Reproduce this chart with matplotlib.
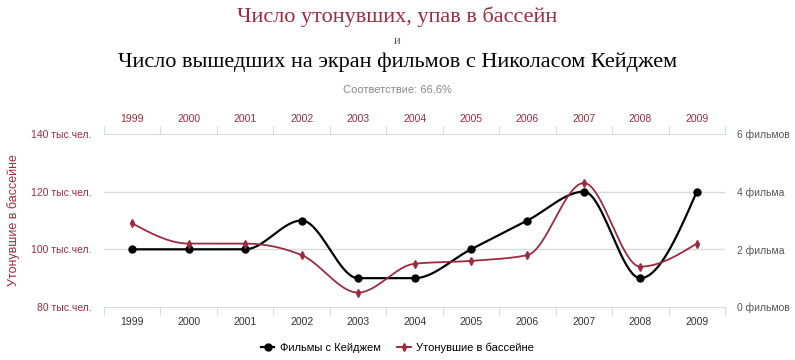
import numpy as np
import matplotlib
matplotlib.use("Agg")
import matplotlib.pyplot as plt
from matplotlib.lines import Line2D

years = ["1999", "2000", "2001", "2002", "2003", "2004", "2005", "2006", "2007", "2008", "2009"]
drownings = [109, 102, 102, 98, 85, 95, 96, 98, 123, 94, 102]
cage_films = [2, 2, 2, 3, 1, 1, 2, 3, 4, 1, 4]
left_ticks = [80, 100, 120, 140]
left_labels = ["80 тыс.чел.", "100 тыс.чел.", "120 тыс.чел.", "140 тыс.чел."]
right_ticks = [0, 2, 4, 6]
right_labels = ["0 фильмов", "2 фильма", "4 фильма", "6 фильмов"]

RED = "#9b2c40"
GRAY = "#555555"
GRID = "#d5dbe0"


def monotone(x, y, n=40):
    x = np.asarray(x, float)
    y = np.asarray(y, float)
    h = np.diff(x)
    s = np.diff(y) / h
    m = np.zeros_like(y)
    for i in range(1, len(y) - 1):
        p = (s[i - 1] * h[i] + s[i] * h[i - 1]) / (h[i - 1] + h[i])
        m[i] = (np.sign(s[i - 1]) + np.sign(s[i])) * min(abs(s[i - 1]), abs(s[i]), 0.5 * abs(p))
    m[0] = (3 * s[0] - m[1]) / 2
    m[-1] = (3 * s[-1] - m[-2]) / 2
    xs, ys = [], []
    for i in range(len(x) - 1):
        t = np.linspace(0, 1, n)
        h00 = 2 * t**3 - 3 * t**2 + 1
        h10 = t**3 - 2 * t**2 + t
        h01 = -2 * t**3 + 3 * t**2
        h11 = t**3 - t**2
        xs.append(x[i] + t * h[i])
        ys.append(h00 * y[i] + h10 * h[i] * m[i] + h01 * y[i + 1] + h11 * h[i] * m[i + 1])
    return np.concatenate(xs), np.concatenate(ys)


plt.rcParams["font.family"] = ["Liberation Sans", "DejaVu Sans"]
fig = plt.figure(figsize=(7.95, 3.6), dpi=100)
ax = fig.add_axes([104 / 795, 1 - 307 / 360, (725 - 104) / 795, (307 - 134) / 360])
ax2 = ax.twinx()

xi = np.arange(len(years))
ax.set_xlim(-0.5, len(years) - 0.5)
ax.set_ylim(80, 140)
ax2.set_ylim(0, 6)

for v in [2, 4]:
    ax2.axhline(v, color=GRID, lw=1, zorder=0)

fx, fy = monotone(xi, cage_films)
ax2.plot(fx, fy, color="black", lw=1.6, zorder=3)
ax2.plot(xi, cage_films, "o", color="black", ms=5, zorder=4)

dx, dy = monotone(xi, drownings)
ax.plot(dx, dy, color=RED, lw=1.3, zorder=3)
ax.plot(xi, drownings, "d", color=RED, ms=4, zorder=4)
ax.set_zorder(ax2.get_zorder() + 1)
ax.patch.set_visible(False)

for a in (ax, ax2):
    for sp in a.spines.values():
        sp.set_visible(False)
ax.spines["bottom"].set_visible(True)
ax.spines["top"].set_visible(True)
ax.spines["bottom"].set_color(GRID)
ax.spines["top"].set_color(GRID)

ax.set_xticks(np.arange(-0.5, len(years), 1.0))
ax.set_xticklabels([])
ax.tick_params(axis="x", which="major", length=6, color=GRID, top=True, bottom=True, direction="out")
ax.set_xticks(xi, minor=True)
ax.set_xticklabels(years, minor=True)
ax.tick_params(axis="x", which="minor", length=0, labelsize=7.5, pad=7,
               labeltop=True, labelbottom=True)

ax.set_yticks(left_ticks)
ax.set_yticklabels(left_labels)
ax.tick_params(axis="y", length=0, labelsize=7.5, labelcolor=RED, pad=9)
ax2.set_yticks(right_ticks)
ax2.set_yticklabels(right_labels)
ax2.tick_params(axis="y", length=0, labelsize=7.5, labelcolor=GRAY, pad=9)

ax.set_ylabel("Утонувшие в бассейне", color=RED, fontsize=9, labelpad=8)

for t in ax.xaxis.get_minor_ticks():
    t.label2.set_color(RED)
    t.label1.set_color("#333333")

fig.text(0.5, 1 - 17 / 360, "Число утонувших, упав в бассейн", ha="center", va="center",
         color=RED, fontsize=16, family="Liberation Serif")
fig.text(0.5, 1 - 41 / 360, "и", ha="center", va="center", color="#555555", fontsize=9,
         family="Liberation Serif")
fig.text(0.5, 1 - 62 / 360, "Число вышедших на экран фильмов с Николасом Кейджем", ha="center",
         va="center", color="black", fontsize=16, family="Liberation Serif")
fig.text(0.5, 1 - 90 / 360, "Соответствие: 66,6%", ha="center", va="center", color="#888888",
         fontsize=8)

handles = [Line2D([], [], color="black", marker="o", ms=5, lw=1.6),
           Line2D([], [], color=RED, marker="d", ms=4, lw=1.4)]
fig.legend(handles, ["Фильмы с Кейджем", "Утонувшие в бассейне"], loc="center",
           bbox_to_anchor=(0.5, 1 - 348 / 360), ncol=2, frameon=False, fontsize=8,
           handlelength=1.2, columnspacing=1.5, handletextpad=0.5)

fig.savefig("out.png", dpi=100, facecolor="white")
